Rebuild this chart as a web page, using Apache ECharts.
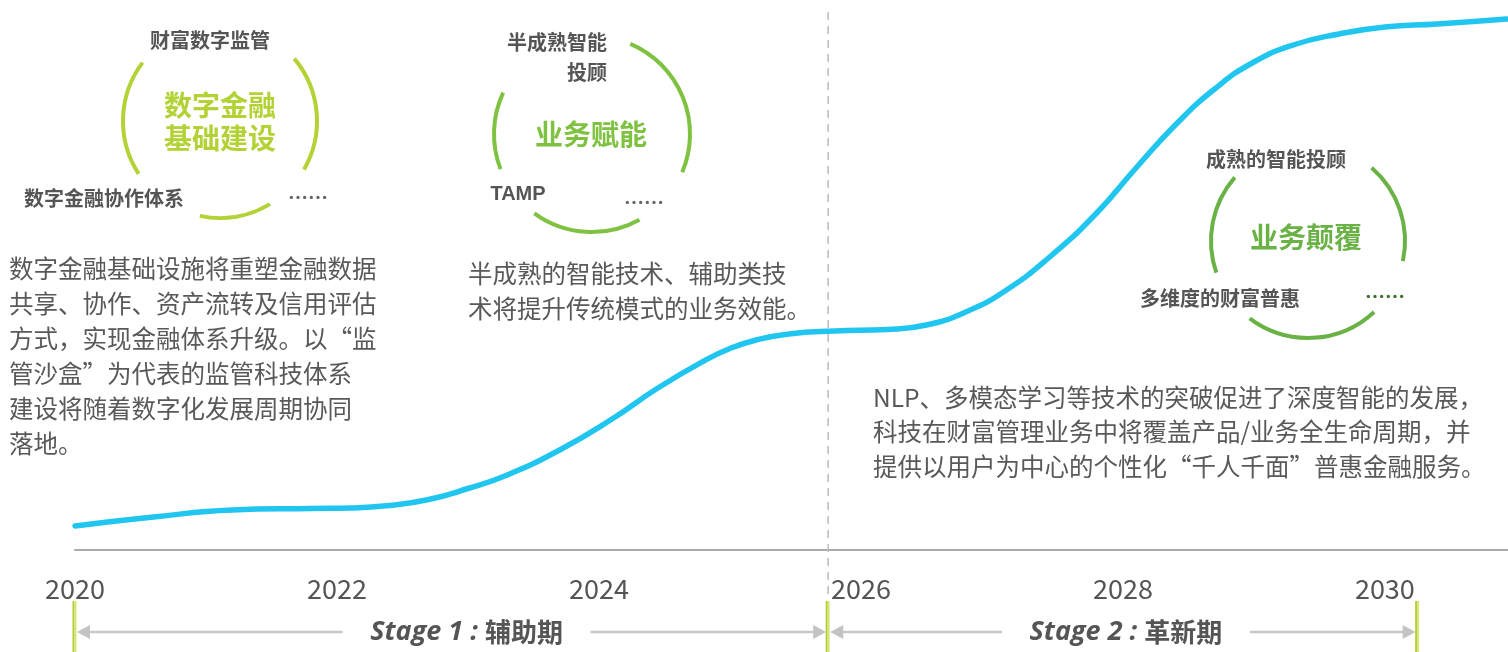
<!DOCTYPE html>
<html>
<head>
<meta charset="utf-8">
<script src="https://cdn.jsdelivr.net/npm/echarts@6/dist/echarts.min.js"></script>
<style>
html,body{margin:0;padding:0;background:#fff;}
#chart{width:1508px;height:652px;}
</style>
</head>
<body>
<div id="chart"></div>
<script>
// ---- data ----
const years = [2020.0, 2020.6, 2021.2, 2021.8, 2022.1, 2022.4, 2022.7, 2023.0, 2023.3, 2023.7, 2024.1,
  2024.45, 2024.8, 2025.0, 2025.2, 2025.45, 2025.8, 2026.2, 2026.5, 2026.8, 2027.1, 2027.45,
  2027.8, 2028.1, 2028.4, 2028.7, 2029.0, 2029.3, 2029.65, 2030.0, 2030.4, 2030.93];
const maturity = [4.8, 6.6, 8.0, 8.3, 8.4, 8.9, 10.1, 12.3, 15.0, 20.0, 26.2,
  32.4, 37.8, 40.3, 42.0, 43.2, 43.8, 44.1, 45.0, 47.6, 51.8, 58.8,
  67.4, 76.4, 85.0, 92.2, 97.6, 101.0, 103.2, 104.6, 105.2, 106.2];
const tickLabels = ['2020', '2022', '2024', '2026', '2028', '2030'];
const stageBounds = [2020, 2025.75, 2030.25];
const stageNames = ['Stage 1 : ', 'Stage 2 : '];
const stagePhases = ['辅助期', '革新期'];
const dividerYear = 2025.75;

const circleTitles = ['数字金融\n基础建设', '业务赋能', '业务颠覆'];
const circleTopLabels = ['财富数字监管', '半成熟智能\n投顾', '成熟的智能投顾'];
const circleLeftLabels = ['数字金融协作体系', 'TAMP', '多维度的财富普惠'];
const descTexts = [
  '数字金融基础设施将重塑金融数据\n共享、协作、资产流转及信用评估\n方式，实现金融体系升级。以“监\n管沙盒”为代表的监管科技体系\n建设将随着数字化发展周期协同\n落地。',
  '半成熟的智能技术、辅助类技\n术将提升传统模式的业务效能。',
  'NLP、多模态学习等技术的突破促进了深度智能的发展，\n科技在财富管理业务中将覆盖产品/业务全生命周期，并\n提供以用户为中心的个性化“千人千面”普惠金融服务。'
];

// ---- chart ----
const CJK = '"Noto Sans CJK SC", "Noto Sans", sans-serif';
const chart = echarts.init(document.getElementById('chart'), null, {renderer: 'canvas'});
chart.setOption({
  animation: false,
  grid: {left: 75, right: 0, top: 0, bottom: 102},
  xAxis: {
    type: 'value', min: 2020, max: 2030.94, interval: 2,
    axisLine: {show: true, lineStyle: {color: '#ababab', width: 2}},
    axisTick: {show: false},
    splitLine: {show: false},
    axisLabel: {
      showMaxLabel: false,
      margin: 25,
      fontSize: 27, color: '#555', fontFamily: CJK,
      formatter: v => tickLabels.includes(String(Math.round(v))) && Math.abs(v - Math.round(v)) < 1e-6 ? String(Math.round(v)) : ''
    }
  },
  yAxis: {type: 'value', min: 0, max: 110, show: false},
  series: [{
    type: 'line', smooth: true, showSymbol: false,
    data: years.map((y, i) => [y, maturity[i]]),
    lineStyle: {color: '#20c6f0', width: 5.5, cap: 'round'},
    z: 3
  }]
});

function px(year) { return chart.convertToPixel({xAxisIndex: 0}, year); }

const g = [];
// divider
const dx = px(dividerYear);
g.push({type: 'line', shape: {x1: dx, y1: 12, x2: dx, y2: 600},
  style: {stroke: '#bdbdbd', lineWidth: 1.5, lineDash: [8, 6]}, z: 1});

// stage arrows
const ay = 632;
const labelShift = [15, 3];
for (let i = 0; i < stageNames.length; i++) {
  const x1 = px(stageBounds[i]) + 2, x2 = px(stageBounds[i + 1]) - 2;
  const mid = (x1 + x2) / 2 + labelShift[i];
  const halfGap = 124;
  g.push({type: 'line', shape: {x1: x1 + 10, y1: ay, x2: mid - halfGap, y2: ay}, style: {stroke: '#c8c8c8', lineWidth: 2.5}});
  g.push({type: 'line', shape: {x1: mid + halfGap, y1: ay, x2: x2 - 10, y2: ay}, style: {stroke: '#c8c8c8', lineWidth: 2.5}});
  g.push({type: 'polygon', shape: {points: [[x1, ay], [x1 + 13, ay - 7], [x1 + 13, ay + 7]]}, style: {fill: '#c3c3c3'}});
  g.push({type: 'polygon', shape: {points: [[x2, ay], [x2 - 13, ay - 7], [x2 - 13, ay + 7]]}, style: {fill: '#c3c3c3'}});
  g.push({type: 'text', x: mid, y: ay, style: {
    text: '{a|' + stageNames[i] + '}{b|' + stagePhases[i] + '}',
    rich: {
      a: {fontSize: 27, fontWeight: 'bold', fontStyle: 'italic', fill: '#555', fontFamily: '"Open Sans", "Noto Sans", sans-serif'},
      b: {fontSize: 26, fontWeight: 'bold', fill: '#555', fontFamily: CJK}
    },
    align: 'center', verticalAlign: 'middle', textAlign: 'center', textVerticalAlign: 'middle'
  }});
}
// green boundary bars
stageBounds.forEach(b => {
  const x = px(b);
  g.push({type: 'rect', shape: {x: x - 2.5, y: 601, width: 2, height: 51}, style: {fill: '#b3cf2e'}});
  g.push({type: 'rect', shape: {x: x - 0.5, y: 601, width: 2, height: 51}, style: {fill: '#d6e67c'}});
});

// circles (layout)
const circles = [
  {cx: 220, cy: 121, r: 97, color: '#b2d235', arcs: [[143, 213], [-30, 40], [258, 301]],
   title: {x: 220, y: 122, lh: 33},
   top: {x: 210, y: 40, align: 'center'},
   left: {x: 104, y: 198, align: 'center'},
   dots: {x: 308, y: 197, color: '#666'}},
  {cx: 592, cy: 134, r: 98, color: '#7fc241', arcs: [[155, 201], [-23, 67], [234, 299]],
   title: {x: 591, y: 134, lh: 30},
   top: {x: 607, y: 57, align: 'right', lh: 30},
   left: {x: 518, y: 194, align: 'center', font: '"Liberation Sans", Arial, sans-serif'},
   dots: {x: 644, y: 202, color: '#666'}},
  {cx: 1308, cy: 241, r: 97, color: '#6bb246', arcs: [[139, 199], [-12, 49], [233, 313]],
   title: {x: 1306, y: 237, lh: 30},
   top: {x: 1276, y: 159, align: 'center'},
   left: {x: 1220, y: 298, align: 'center'},
   dots: {x: 1385, y: 296, color: '#3d6e2c'}}
];
const D = Math.PI / 180;
circles.forEach((c, i) => {
  c.arcs.forEach(a => {
    g.push({type: 'arc', shape: {cx: c.cx, cy: c.cy, r: c.r, startAngle: -a[1] * D, endAngle: -a[0] * D, clockwise: true},
      style: {stroke: c.color, lineWidth: 4, fill: null}});
  });
  g.push({type: 'text', x: c.title.x, y: c.title.y, style: {
    text: circleTitles[i], fill: c.color, fontSize: 28, fontWeight: 'bold', fontFamily: CJK, lineHeight: c.title.lh,
    align: 'center', verticalAlign: 'middle', textAlign: 'center', textVerticalAlign: 'middle'}});
  g.push({type: 'text', x: c.top.x, y: c.top.y, style: {
    text: circleTopLabels[i], fill: '#555', fontSize: 20, fontWeight: 'bold', fontFamily: CJK, lineHeight: c.top.lh || 26,
    align: c.top.align, verticalAlign: 'middle', textAlign: c.top.align, textVerticalAlign: 'middle'}});
  g.push({type: 'text', x: c.left.x, y: c.left.y, style: {
    text: circleLeftLabels[i], fill: '#555', fontSize: 20, fontWeight: 'bold', fontFamily: c.left.font || CJK,
    align: c.left.align, verticalAlign: 'middle', textAlign: c.left.align, textVerticalAlign: 'middle'}});
  g.push({type: 'text', x: c.dots.x, y: c.dots.y, style: {
    text: '……', fill: c.dots.color, fontSize: 20, fontWeight: 'bold', fontFamily: CJK,
    align: 'center', verticalAlign: 'middle', textAlign: 'center', textVerticalAlign: 'middle'}});
});

// description texts
const descPos = [{x: 9, y: 251, lh: 35}, {x: 468, y: 256, lh: 35}, {x: 873, y: 380, lh: 34.5}];
descTexts.forEach((t, i) => {
  g.push({type: 'text', x: descPos[i].x, y: descPos[i].y, style: {
    text: t, fill: '#595959', fontSize: 24.5, fontFamily: CJK, lineHeight: descPos[i].lh,
    align: 'left', verticalAlign: 'top', textAlign: 'left', textVerticalAlign: 'top'}});
});

chart.setOption({graphic: {elements: g}});
</script>
</body>
</html>
